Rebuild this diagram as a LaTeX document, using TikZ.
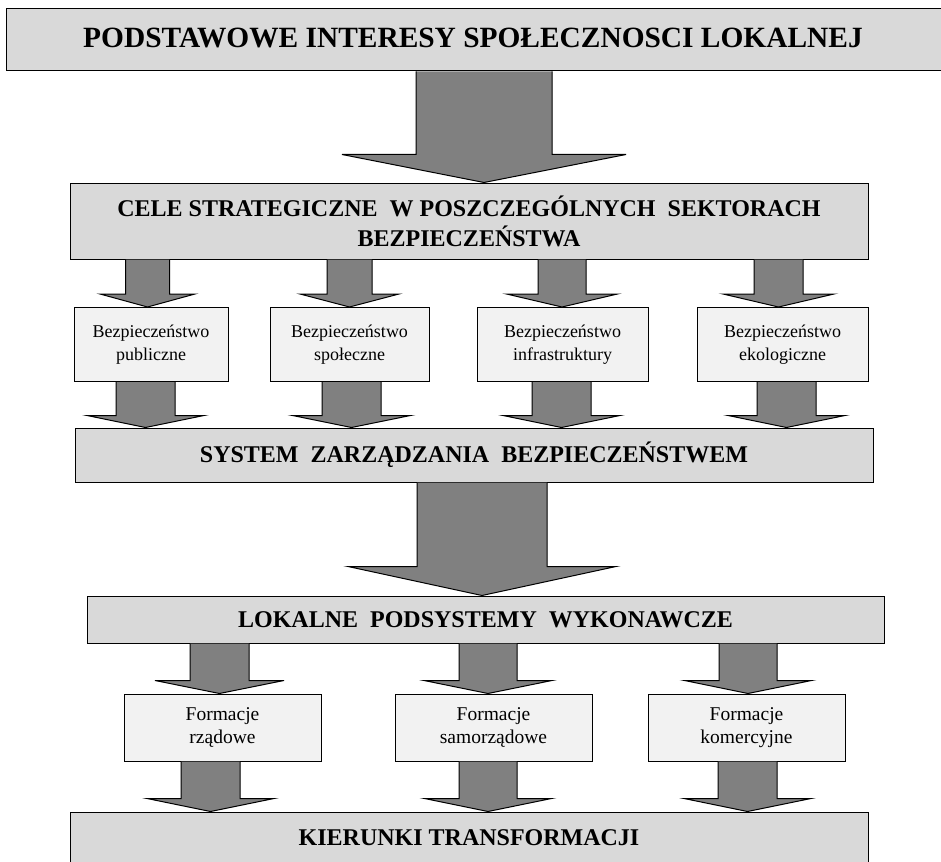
\documentclass[tikz,border=0pt]{standalone}
\usepackage{fontspec}
\setmainfont{Liberation Serif}
\usepackage{tikz}
\usetikzlibrary{calc}
\definecolor{headgray}{RGB}{217,217,217}
\definecolor{sectgray}{RGB}{242,242,242}
\definecolor{arrgray}{RGB}{128,128,128}
% block arrow: x, from node, to node, shaft half width, head half width, head length
\newcommand{\blockarrow}[6]{%
  \filldraw[blockarr] (#1-#4,0 |- #2.south) -- ($(#1-#4,0 |- #3.north)+(0,-#6)$) -- ($(#1-#5,0 |- #3.north)+(0,-#6)$)
    -- (#1,0 |- #3.north) -- ($(#1+#5,0 |- #3.north)+(0,-#6)$) -- ($(#1+#4,0 |- #3.north)+(0,-#6)$) -- (#1+#4,0 |- #2.south);}
\tikzset{
  headbox/.style={draw,line width=1pt,fill=headgray,inner sep=0pt,align=center,font=\bfseries\fontsize{24}{30}\selectfont},
  sectbox/.style={draw,line width=1pt,fill=sectgray,inner sep=0pt,align=center,font=\fontsize{18}{23}\selectfont},
  formbox/.style={draw,line width=1pt,fill=sectgray,inner sep=0pt,align=center,font=\fontsize{19.5}{23}\selectfont},
  blockarr/.style={draw,fill=arrgray,line width=1pt,line join=miter}
}
\begin{document}
\begin{tikzpicture}[x=1pt,y=-1pt]
  \useasboundingbox (0,0) rectangle (941,861);
  % main levels
  \node[headbox,minimum width=954pt,minimum height=62pt,font=\bfseries\fontsize{29.4}{32}\selectfont] (top) at (483,40) {\raisebox{5pt}{\hspace*{-20pt}PODSTAWOWE INTERESY SPOŁECZNOSCI LOKALNEJ}};
  \node[headbox,minimum width=798pt,minimum height=76pt] (cele) at (469,221) {CELE STRATEGICZNE\ \ W POSZCZEGÓLNYCH\ \ SEKTORACH\\BEZPIECZEŃSTWA};
  \node[headbox,minimum width=798pt,minimum height=54pt] (sys) at (474,455) {\raisebox{4pt}{SYSTEM\ \ ZARZĄDZANIA\ \ BEZPIECZEŃSTWEM}};
  \node[headbox,minimum width=797pt,minimum height=47pt] (lok) at (485.5,619.5) {LOKALNE\ \ PODSYSTEMY\ \ WYKONAWCZE};
  \node[headbox,minimum width=798pt,minimum height=58pt] (kier) at (469,841) {\raisebox{6pt}{KIERUNKI TRANSFORMACJI}};
  % sectors
  \node[sectbox,minimum width=154pt,minimum height=74pt] (pub) at (151,344.5) {Bezpieczeństwo\\publiczne};
  \node[sectbox,minimum width=159pt,minimum height=74pt] (spo) at (349.5,344.5) {Bezpieczeństwo\\społeczne};
  \node[sectbox,minimum width=171pt,minimum height=74pt] (inf) at (562.5,344.5) {Bezpieczeństwo\\infrastruktury};
  \node[sectbox,minimum width=171pt,minimum height=74pt] (eko) at (782.5,344.5) {Bezpieczeństwo\\ekologiczne};
  % formations
  \node[formbox,minimum width=197pt,minimum height=67pt] (rzad) at (222.5,727.5) {Formacje\\rządowe};
  \node[formbox,minimum width=197pt,minimum height=67pt] (samo) at (493.5,727.5) {Formacje\\samorządowe};
  \node[formbox,minimum width=197pt,minimum height=67pt] (kom) at (746.5,727.5) {Formacje\\komercyjne};
  % arrows
  \blockarrow{484}{top}{cele}{68}{142}{28}
  \blockarrow{147.5}{cele}{pub}{22}{47.5}{13} \blockarrow{349.5}{cele}{spo}{22.5}{49.5}{13}
  \blockarrow{562}{cele}{inf}{24}{55.5}{13} \blockarrow{778.5}{cele}{eko}{24.5}{55.5}{13}
  \blockarrow{145.5}{pub}{sys}{29.5}{58.5}{12} \blockarrow{351.5}{spo}{sys}{29.5}{59}{12}
  \blockarrow{561.5}{inf}{sys}{29.5}{58.5}{12} \blockarrow{786.5}{eko}{sys}{29.5}{58.5}{12}
  \blockarrow{482}{sys}{lok}{65}{134}{29}
  \blockarrow{219.5}{lok}{rzad}{29.5}{64.5}{13} \blockarrow{488}{lok}{samo}{29}{64}{13} \blockarrow{748}{lok}{kom}{29}{63.5}{13}
  \blockarrow{210.5}{rzad}{kier}{29.5}{63.5}{13} \blockarrow{488}{samo}{kier}{29}{63.5}{13} \blockarrow{747.5}{kom}{kier}{29.5}{63.5}{13}
\end{tikzpicture}
\end{document}
